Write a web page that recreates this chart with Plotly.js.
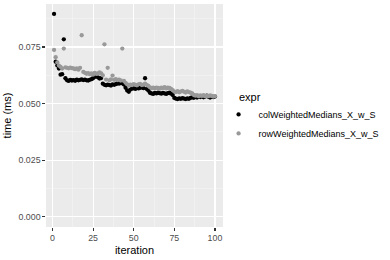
<!DOCTYPE html>
<html>
<head>
<meta charset="utf-8">
<script src="https://cdn.plot.ly/plotly-3.0.1.min.js"></script>
<style>html,body{margin:0;padding:0;background:#fff;}#chart{width:390px;height:260px;}</style>
</head>
<body>
<div id="chart"></div>
<script>
var seriesNames = ["colWeightedMedians_X_w_S", "rowWeightedMedians_X_w_S"];
var legendTitle = "expr";
var colTimes = [
0.0896,0.0685,0.0668,0.0655,0.0628,0.0630,0.0784,0.0612,0.0603,0.0600,
0.0605,0.0602,0.0604,0.0601,0.0606,0.0603,0.0605,0.0607,0.0604,0.0606,
0.0603,0.0602,0.0605,0.0608,0.0612,0.0618,0.0621,0.0616,0.0611,0.0613,
0.0588,0.0583,0.0581,0.0584,0.0582,0.0580,0.0585,0.0583,0.0586,0.0590,
0.0588,0.0592,0.0589,0.0584,0.0570,0.0558,0.0552,0.0562,0.0566,0.0568,
0.0565,0.0569,0.0567,0.0570,0.0572,0.0568,0.0612,0.0565,0.0558,0.0548,
0.0545,0.0543,0.0547,0.0545,0.0548,0.0546,0.0544,0.0547,0.0545,0.0543,
0.0546,0.0548,0.0544,0.0538,0.0525,0.0522,0.0520,0.0523,0.0521,0.0524,
0.0522,0.0520,0.0523,0.0521,0.0525,0.0528,0.0526,0.0530,0.0527,0.0532,
0.0529,0.0533,0.0528,0.0531,0.0535,0.0530,0.0527,0.0532,0.0529,0.0531];
var rowTimes = [
0.0737,0.0705,0.0682,0.0668,0.0662,0.0655,0.0743,0.0660,0.0658,0.0656,
0.0659,0.0657,0.0655,0.0652,0.0656,0.0650,0.0658,0.0802,0.0640,0.0636,
0.0632,0.0635,0.0630,0.0634,0.0628,0.0636,0.0631,0.0633,0.0638,0.0634,
0.0625,0.0762,0.0606,0.0658,0.0603,0.0607,0.0624,0.0605,0.0608,0.0604,
0.0606,0.0602,0.0743,0.0600,0.0592,0.0585,0.0580,0.0584,0.0582,0.0586,
0.0583,0.0581,0.0585,0.0587,0.0582,0.0584,0.0588,0.0583,0.0578,0.0572,
0.0568,0.0570,0.0567,0.0571,0.0569,0.0566,0.0570,0.0568,0.0573,0.0567,
0.0571,0.0569,0.0565,0.0560,0.0553,0.0551,0.0555,0.0550,0.0553,0.0556,
0.0552,0.0549,0.0554,0.0551,0.0548,0.0545,0.0538,0.0535,0.0537,0.0533,
0.0536,0.0534,0.0537,0.0532,0.0535,0.0533,0.0536,0.0534,0.0531,0.0533];
var iterations = colTimes.map(function(_, i){ return i + 1; });
var xTickVals = [0, 25, 50, 75, 100];
var yTickVals = [0, 0.025, 0.05, 0.075];
var yTickText = ["0.000", "0.025", "0.050", "0.075"];

var traces = [
  {x: iterations, y: colTimes, name: seriesNames[0], type: "scatter", mode: "markers",
   marker: {color: "#000000", size: 4.3}},
  {x: iterations, y: rowTimes, name: seriesNames[1], type: "scatter", mode: "markers",
   marker: {color: "#999999", size: 4.3}}
];
var font = "Liberation Sans, Arial, sans-serif";
var layout = {
  width: 390, height: 260,
  margin: {l: 46, r: 167, t: 4, b: 33, autoexpand: false},
  paper_bgcolor: "#ffffff",
  plot_bgcolor: "#EBEBEB",
  font: {family: font, size: 8.8, color: "#4D4D4D"},
  showlegend: true,
  legend: {
    x: 0.975, xanchor: "left", y: 0.462, yanchor: "middle",
    font: {size: 9, color: "#000000"},
    itemwidth: 30, tracegroupgap: 0, bgcolor: "rgba(0,0,0,0)"
  },
  annotations: [{
    text: legendTitle, xref: "paper", yref: "paper", x: 1.079, y: 0.583,
    xanchor: "left", yanchor: "middle", showarrow: false,
    font: {size: 11, color: "#000000"}
  }],
  xaxis: {
    range: [-3.95, 104.95], tickvals: xTickVals, ticktext: xTickVals.map(String),
    showgrid: true, gridcolor: "#FFFFFF", gridwidth: 1.1,
    minor: {dtick: 12.5, tick0: 0, showgrid: true, gridcolor: "#F5F5F5", gridwidth: 0.55, ticklen: 0},
    zeroline: false, showline: false,
    ticks: "outside", ticklen: 2.7, tickwidth: 1.1, tickcolor: "#333333",
    tickfont: {size: 8.8, color: "#4D4D4D"},
    title: {text: "iteration", font: {size: 11, color: "#000000"}, standoff: 4},
    automargin: false
  },
  yaxis: {
    range: [-0.0045, 0.0940], tickvals: yTickVals, ticktext: yTickText,
    showgrid: true, gridcolor: "#FFFFFF", gridwidth: 1.1,
    minor: {dtick: 0.0125, tick0: 0, showgrid: true, gridcolor: "#F5F5F5", gridwidth: 0.55, ticklen: 0},
    zeroline: false, showline: false,
    ticks: "outside", ticklen: 2.7, tickwidth: 1.1, tickcolor: "#333333",
    tickfont: {size: 8.8, color: "#4D4D4D"},
    title: {text: "time (ms)", font: {size: 11, color: "#000000"}, standoff: 4},
    automargin: false
  }
};
Plotly.newPlot("chart", traces, layout, {staticPlot: true, displayModeBar: false});
</script>
</body>
</html>
